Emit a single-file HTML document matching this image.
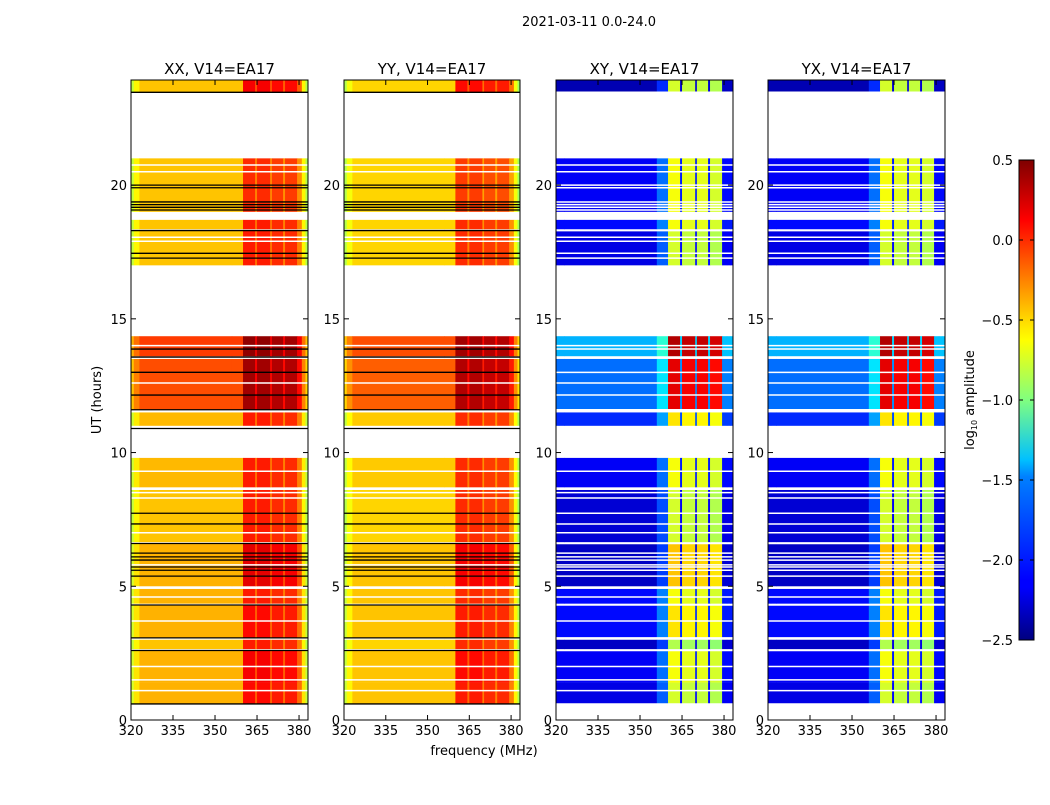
<!DOCTYPE html>
<html><head><meta charset="utf-8"><style>
body{margin:0;background:#fff;width:1050px;height:800px;overflow:hidden}
svg text{font-family:"DejaVu Sans","Liberation Sans",sans-serif}
</style></head><body>
<svg id="fig" width="1050" height="800" viewBox="0 0 1050 800" xmlns="http://www.w3.org/2000/svg">
<text x="589" y="26" font-size="13" text-anchor="middle">2021-03-11 0.0-24.0</text>
<text x="484" y="755" font-size="13" text-anchor="middle">frequency (MHz)</text>
<text transform="translate(101,400) rotate(-90)" font-size="13" text-anchor="middle">UT (hours)</text>
<g id="panels"></g>
<defs><linearGradient id="jet" x1="0" y1="1" x2="0" y2="0">
<stop offset="0" stop-color="#00007f"/><stop offset="0.11" stop-color="#0000ff"/><stop offset="0.125" stop-color="#0000ff"/>
<stop offset="0.34" stop-color="#0080ff"/><stop offset="0.375" stop-color="#00c0ff"/><stop offset="0.5" stop-color="#80ff80"/>
<stop offset="0.625" stop-color="#ffff00"/><stop offset="0.66" stop-color="#ffe000"/><stop offset="0.875" stop-color="#ff0000"/><stop offset="1" stop-color="#7f0000"/>
</linearGradient></defs>
<rect x="1019" y="160" width="15" height="480" fill="url(#jet)" stroke="#000" stroke-width="1"/>
<text transform="translate(974,400) rotate(-90)" font-size="13" text-anchor="middle">log<tspan font-size="8" dy="3">10</tspan><tspan dy="-3"> amplitude</tspan></text>
<g id="cbticks"></g>
</svg>
<script>
const titles=["XX, V14=EA17","YY, V14=EA17","XY, V14=EA17","YX, V14=EA17"];
const xTicks=[320,335,350,365,380];
const yTicks=[0,5,10,15,20];
const cbTicks=[0.5,0.0,-0.5,-1.0,-1.5,-2.0,-2.5];
// time segments: start hour, end hour
const segStart=[0.6,1.4,2.65,3.07,4.35,5.0,6.65,8.7,11.0,11.6,13.6,17.0,18.35,19.0,23.47];
const segEnd=[1.4,2.6,3.0,4.3,4.9,6.6,8.6,9.8,11.5,13.5,14.35,18.3,18.7,21.0,23.93];
const parLevel=[-0.4,-0.4,-0.45,-0.4,-0.4,-0.4,-0.45,-0.42,-0.42,-0.1,-0.05,-0.45,-0.45,-0.45,-0.45];
const parBandLevel=[0.05,0.1,0.0,0.05,0.0,0.15,0.0,0.0,0.0,0.35,0.4,0.0,0.0,-0.05,0.1];
const crossLevel=[-2.2,-2.15,-2.3,-2.1,-2.1,-2.3,-2.25,-2.15,-2.0,-1.8,-1.6,-2.2,-2.1,-2.15,-2.35];
const crossBandLevel=[-0.8,-0.7,-0.9,-0.6,-0.7,-0.5,-0.8,-0.7,-0.6,0.15,0.3,-0.8,-0.7,-0.7,-0.8];
// frequency bands: kind 0 = follows row base, 1 = follows row bright band
const bandStart=[320,321,323,356,360,364.3,365,369.7,370.3,374.3,375,379.3,381,382.3];
const bandEnd=[321,323,356,360,364.3,365,369.7,370.3,374.3,375,379.3,381,382.3,383.3];
const bandKind=[0,0,0,0,1,0,1,0,1,0,1,0,0,0];
const parOffset=[-0.35,-0.15,0,0,0.05,-0.2,0.05,-0.25,0,-0.25,0,-0.25,-0.15,-0.4];
const crossOffset=[0,0,0,0.35,0.05,0.1,0,0.1,0,0.1,-0.05,0.05,0.05,0.05];
// flagged (black) and gap (white) lines, hours
const blackLines=[0.6,2.6,3.07,4.3,5.38,5.6,5.72,5.98,6.1,6.24,6.6,7.33,7.73,10.9,11.6,12.15,13.0,13.57,13.87,17.27,17.45,18.3,19.07,19.17,19.27,19.37,19.9,20.0,23.47];
const whiteLines=[1.1,1.5,2.0,3.7,4.6,5.8,7.0,8.3,8.5,9.3,12.6,14.0,17.9,18.05,20.5,20.75];
const panels=[[131,308],[344,520],[556,733],[768,945]];
const Y0=80,Y1=720,HMAX=23.93,FMIN=320,FMAX=383.2;
const vmin=-2.5,vmax=0.5;
function yS(h){return Y1-(h/HMAX)*(Y1-Y0);}
function jet(v){let t=(v-vmin)/(vmax-vmin);t=Math.max(0,Math.min(1,t));
 const c=x=>Math.round(255*Math.max(0,Math.min(1,1.5-Math.abs(4*t-x))));return `rgb(${c(3)},${c(2)},${c(1)})`;}
const NS="http://www.w3.org/2000/svg";
function mk(tag,attrs,parent){const e=document.createElementNS(NS,tag);for(const k in attrs)e.setAttribute(k,attrs[k]);parent.appendChild(e);return e;}
const root=document.getElementById('panels');
panels.forEach((p,pi)=>{
 const [xa,xb]=p;const xS=f=>xa+(f-FMIN)/(FMAX-FMIN)*(xb-xa);
 const g=mk('g',{},root);
 
 
 const cross=pi>=2;
 for(let s=0;s<segStart.length;s++){
  for(let b=0;b<bandStart.length;b++){
   let v;
   if(cross) v=(bandKind[b]?crossBandLevel[s]:crossLevel[s])+crossOffset[b];
   else v=(bandKind[b]||b>=5&&b<=11?parBandLevel[s]:parLevel[s])+parOffset[b]+(pi==1?-0.05:0);
   const x0=xS(bandStart[b]),x1=Math.min(xS(bandEnd[b]),xb);
   const r=mk('rect',{x:x0,y:yS(segEnd[s]),width:Math.max(0,x1-x0)+0.4,height:yS(segStart[s])-yS(segEnd[s]),fill:jet(v)},g);
   
   
  }
 }
 whiteLines.forEach(h=>{const l=mk('line',{x1:xa,x2:xb,y1:yS(h),y2:yS(h),stroke:'#fff','stroke-width':1.5},g);
  
  });
 blackLines.forEach(h=>{const l=mk('line',{x1:xa,x2:xb,y1:yS(h),y2:yS(h),stroke:cross?'#fff':'#000','stroke-width':cross?1.5:1.3},g);
  
  });
 const fr=mk('rect',{x:xa,y:Y0,width:xb-xa,height:Y1-Y0,fill:'none',stroke:'#000','stroke-width':1},g);
 
 
 const t=mk('text',{x:(xa+xb)/2,y:74,'font-size':15,'text-anchor':'middle'},g);t.textContent=titles[pi];
 
 
 xTicks.forEach(f=>{const x=xS(f);mk('line',{x1:x,x2:x,y1:Y1,y2:Y1-5,stroke:'#000'},g);mk('line',{x1:x,x2:x,y1:Y0,y2:Y0+5,stroke:'#000'},g);
  const tt=mk('text',{x:x,y:Y1+15,'font-size':13,'text-anchor':'middle'},g);tt.textContent=f;
  
  });
 yTicks.forEach(h=>{const y=yS(h);mk('line',{x1:xa,x2:xa+5,y1:y,y2:y,stroke:'#000'},g);mk('line',{x1:xb,x2:xb-5,y1:y,y2:y,stroke:'#000'},g);
  const tt=mk('text',{x:xa-4,y:y+5,'font-size':13,'text-anchor':'end'},g);tt.textContent=h;
  
  });
});
const cb=document.getElementById('cbticks');
cbTicks.forEach(v=>{const y=640-(v-vmin)/(vmax-vmin)*480;
 mk('line',{x1:1019,x2:1023,y1:y,y2:y,stroke:'#000'},cb);mk('line',{x1:1034,x2:1030,y1:y,y2:y,stroke:'#000'},cb);
 const tt=mk('text',{x:1013,y:y+5,'font-size':13,'text-anchor':'end'},cb);tt.textContent=v.toFixed(1).replace('-','\u2212');
 
 });
</script>
</body></html>
